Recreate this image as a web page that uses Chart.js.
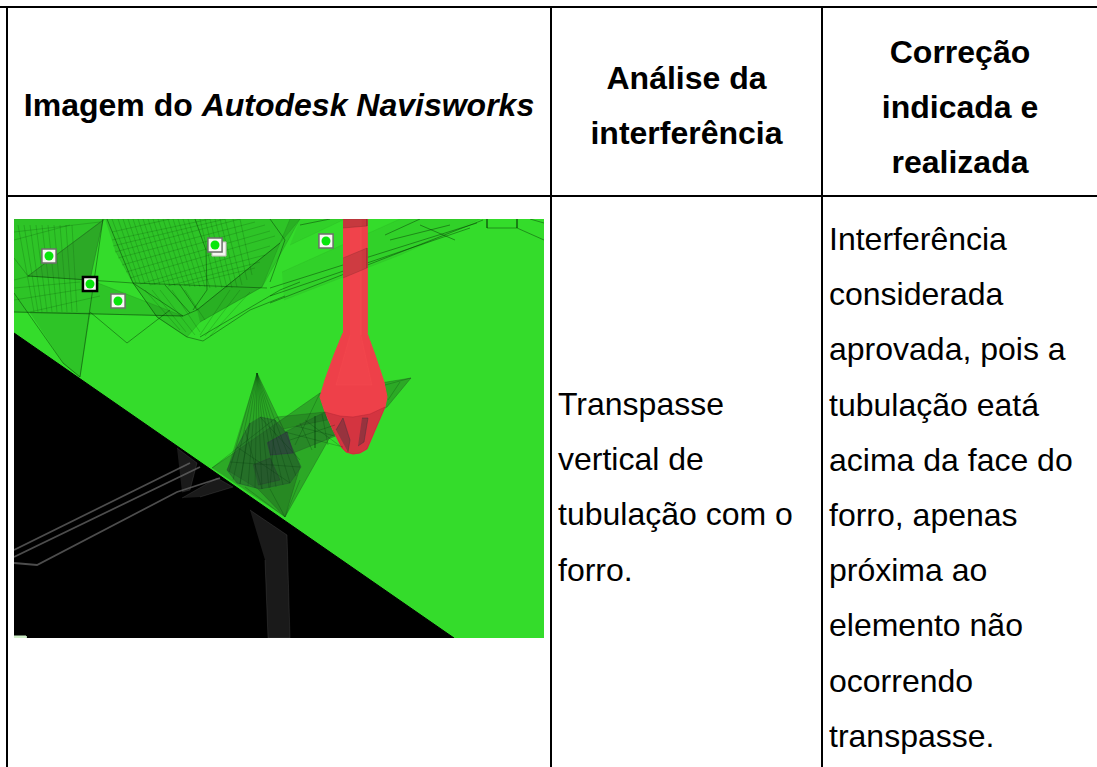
<!DOCTYPE html>
<html lang="pt">
<head>
<meta charset="utf-8">
<title>Interferência</title>
<script src="https://cdn.jsdelivr.net/npm/chart.js@4"></script>
<style>
  html, body { margin: 0; padding: 0; background: #fff; overflow: hidden; }
  body { width: 1097px; height: 767px; position: relative; font-family: "Liberation Sans", Arial, sans-serif; color: #000; }
  .rule { position: absolute; background: #000; }
  .cell { position: absolute; white-space: nowrap; }
  .head { font-weight: bold; font-size: 32px; line-height: 55px; text-align: center; }
  .body { font-size: 32px; line-height: 55.2px; }
  #scene { position: absolute; left: 14px; top: 219px; filter: blur(0.5px); }
</style>
</head>
<body>
<!-- table rules -->
<div class="rule" style="left:0;top:6px;width:1097px;height:2px"></div>
<div class="rule" style="left:6px;top:195px;width:1091px;height:2px"></div>
<div class="rule" style="left:6px;top:6px;width:2px;height:761px"></div>
<div class="rule" style="left:550px;top:6px;width:2px;height:761px"></div>
<div class="rule" style="left:821px;top:6px;width:2px;height:761px"></div>

<!-- header cells -->
<div class="cell head" style="left:8px;top:78px;width:542px">Imagem do <i>Autodesk Navisworks</i></div>
<div class="cell head" style="left:552px;top:51px;width:269px">Análise da<br>interferência</div>
<div class="cell head" style="left:823px;top:25px;width:274px">Correção<br>indicada e<br>realizada</div>

<!-- body cells, filled from the arrays below -->
<div class="cell body" id="analise" style="left:558px;top:377px"></div>
<div class="cell body" id="correcao" style="left:829px;top:212px"></div>

<canvas id="scene" width="530" height="419"></canvas>

<script>
const analysisLines = ['Transpasse', 'vertical de', 'tubulação com o', 'forro.'];
const correctionLines = ['Interferência', 'considerada', 'aprovada, pois a', 'tubulação eatá', 'acima da face do', 'forro, apenas', 'próxima ao', 'elemento não', 'ocorrendo', 'transpasse.'];

const ground = [[14,219],[544,219],[544,638],[14,638]];
const shadow = [[14,333],[454,638],[14,638]];
const cornerMark = [[14,636],[26,636],[26,638],[14,638]];

// wireframe faces over the green ground
const faintFaces = [
  [[14,219],[105,219],[28,276],[14,258]],
  [[14,258],[28,276],[90,280],[183,316],[14,312]],
  [[105,219],[300,219],[280,243],[262,287],[200,322],[187,337],[157,317],[133,283],[115,250]],
  [[197,310],[280,243],[290,219],[300,219],[262,287],[200,322]],
  [[30,313],[90,313],[80,377],[63,363]]
];
const bandFaces = [
  [[282,272],[400,219],[480,219],[400,255],[284,300]],
  [[300,219],[345,219],[290,245]]
];
const darkFaces = [
  [[28,276],[103,220],[90,280]],
  [[257,373],[285,432],[300,467],[285,517],[258,489],[227,470]],
  [[212,468],[320,393],[411,378],[387,407],[330,437],[285,517]]
];
const coneBlob = [[260,417],[275,420],[285,432],[301,467],[290,483],[260,489],[237,483],[227,470],[237,447],[250,423]];
const tube = [[285,432],[325,412],[338,435],[293,453]];
const tubeTop = [[277,417],[325,412],[327,420],[283,429]];
const coreDark = [[267,443],[287,432],[293,453],[270,455]];
const coreDark2 = [[253,465],[270,458],[280,480],[258,485]];

// red pipe
const pipeNeck = [[343,219],[367,219],[367,333],[375,355],[384,382],[387,397],[385,407],[376,428],[367,449],[360,453],[353,454],[346,452],[342,448],[333,430],[325,412],[320,397],[325,380],[334,355],[343,333]];
const pipeLower = [[325,412],[340,416],[353,417],[370,414],[385,407],[376,428],[367,449],[360,453],[353,454],[346,452],[342,448],[333,430]];
const pipeCrossA = [[343,219],[367,219],[367,226],[343,228]];
const pipeCrossB = [[343,258],[367,248],[367,268],[343,278]];
const pipeGlow = [[350,219],[361,219],[361,335],[372,385],[336,385],[350,335]];
const pipeBase = [[336,430],[343,418],[350,440],[348,452]];
const pipeBaseB = [[362,418],[368,418],[364,442],[358,446]];

// dark strokes of the mesh, null breaks a stroke
const meshStrokes = [
  [14,312],[183,316],[197,310],[280,243],null,
  [28,276],[133,283],[267,288],null,
  [14,293],[63,363],[80,377],[103,219],null,
  [107,219],[133,283],[157,317],[187,337],[203,341],null,
  [195,219],[206,250],[207,290],[193,310],null,
  [90,312],[127,343],[170,310],null,
  [203,341],[250,310],[285,296],null,
  [200,337],[280,290],[300,282],null,
  [270,303],[483,220],null,
  [270,296],[470,228],null,
  [270,288],[343,265],[477,223],null,
  [390,240],[450,225],null,
  [487,219],[487,228],[517,228],[544,240],null,
  [517,219],[517,228],null,
  [530,219],[544,223],null,
  [270,219],[285,240],[270,282],null,
  [300,225],[330,219],null,
  [385,235],[420,219],null,
  [420,225],[455,240],null,
  [133,283],[183,316],null,
  [180,285],[197,310],null,
  [165,285],[190,313],null
];
const gridStrokes = [
  [112,219],[136,283],null,[118,219],[140,283],null,[123,219],[145,284],null,[128,219],[150,285],null,
  [133,219],[155,285],null,[138,219],[160,285],null,[143,219],[165,285],null,[148,219],[170,286],null,
  [153,219],[175,286],null,[158,219],[180,286],null,[163,219],[185,286],null,[168,219],[190,287],null,
  [173,219],[195,287],null,[178,219],[200,287],null,[183,219],[205,287],null,[188,219],[210,288],null,
  [200,219],[216,288],null,[205,219],[222,288],null,[210,219],[227,288],null,[215,219],[232,288],null,
  [220,219],[237,287],null,[225,219],[242,285],null,[233,219],[247,280],null,[240,219],[252,275],null,
  [112,232],[170,219],null,[112,240],[210,219],null,[113,246],[225,219],null,[115,252],[240,219],null,
  [118,258],[255,222],null,[122,265],[265,225],null,[126,272],[270,231],null,[130,278],[275,236],null,
  [140,284],[270,246],null,[150,285],[265,255],null,[168,286],[260,262],null,[185,285],[255,268],null,
  [18,225],[34,312],null,[24,225],[38,312],null,[30,225],[42,312],null,[36,225],[47,312],null,
  [42,225],[52,312],null,[48,225],[57,312],null,[54,225],[62,312],null,[60,225],[67,312],null,
  [66,225],[72,312],null,[72,225],[77,312],null,[14,232],[100,222],null,[14,240],[70,225],null,
  [14,280],[30,276],null,[14,288],[80,282],null,[14,300],[90,288],null,[30,312],[100,296],null,
  [145,290],[180,330],null,[152,290],[186,332],null,[160,290],[195,335],null,[172,290],[200,332],null,
  [185,290],[205,320],null,[230,290],[200,335],null,[240,290],[205,336],null,[250,292],[210,336],null
];
const coneStrokes = [
  [257,373],[229,472],null,[257,373],[233,480],null,[257,373],[240,484],null,[257,373],[248,486],null,
  [257,373],[255,488],null,[257,373],[262,489],null,[257,373],[269,488],null,[257,373],[276,487],null,
  [257,373],[283,485],null,[257,373],[290,483],null,[257,373],[296,476],null,
  [237,447],[290,483],null,[230,462],[300,467],null,[245,430],[262,489],null,
  [260,417],[300,460],null,[250,423],[240,484],null,[275,420],[270,488],null,
  [212,468],[277,417],null,[285,517],[270,489],null,[285,517],[300,480],null,[285,517],[245,487],null,
  [285,432],[343,447],null,[296,426],[335,436],null,[305,420],[340,446],null,
  [315,416],[315,448],null,[290,440],[335,425],null,[300,423],[312,450],null,[322,414],[328,445],null,
  [320,393],[295,445],null,[411,378],[385,385],null,[400,382],[388,400],null
];

// gray edges inside the black area
const darkPatches = [
  [[177,448],[197,463],[190,490],[182,492]],
  [[182,498],[217,478],[233,487],[200,497]],
  [[250,510],[287,535],[290,638],[268,638],[265,560]]
];
const edgeStrokes = [
  [14,550],[190,463],null,
  [14,557],[200,467],null,
  [14,563],[37,565],[177,492],[220,478],null
];

// markers
const markerPlain = [[49,256],[118,301],[215,245],[326,241]];
const markerBack = [[219,249]];
const markerActive = [[90,284]];

function pts(list) {
  return list.map(p => (p ? { x: p[0], y: p[1] } : { x: null, y: null }));
}
function face(list, color) {
  return { data: pts(list), showLine: true, fill: 'shape', backgroundColor: color, borderColor: color, borderWidth: 1, pointRadius: 0 };
}
function strokes(list, color, width) {
  return { data: pts(list), showLine: true, fill: false, borderColor: color, borderWidth: width, pointRadius: 0, spanGaps: false };
}
function marker(list, fill, edge, radius, width) {
  return { data: pts(list), showLine: false, pointStyle: 'rect', pointRadius: radius, pointBackgroundColor: fill, pointBorderColor: edge, pointBorderWidth: width };
}
function dot(list) {
  return { data: pts(list), showLine: false, pointStyle: 'circle', pointRadius: 4.5, pointBackgroundColor: '#08e60c', pointBorderWidth: 0 };
}

const layers = [
  face(ground, '#34dc2b'),
  ...faintFaces.map(f => face(f, 'rgba(20,90,20,0.18)')),
  ...bandFaces.map(f => face(f, 'rgba(20,90,20,0.08)')),
  strokes(gridStrokes, 'rgba(0,60,0,0.24)', 0.8),
  ...darkFaces.map(f => face(f, 'rgba(30,80,30,0.36)')),
  strokes(meshStrokes, 'rgba(0,40,0,0.42)', 1),
  face(shadow, '#000000'),
  ...darkPatches.map(f => face(f, 'rgba(105,105,105,0.25)')),
  strokes(edgeStrokes, 'rgba(110,110,110,0.7)', 1.8),
  face(cornerMark, '#cfeec8'),
  face(coneBlob, 'rgba(35,85,45,0.5)'),
  face(tube, 'rgba(35,90,40,0.42)'),
  face(pipeNeck, '#ee4049'),
  face(pipeGlow, 'rgba(255,90,90,0.16)'),
  face(pipeLower, 'rgba(170,35,50,0.38)'),
  face(pipeCrossA, 'rgba(120,40,40,0.35)'),
  face(pipeCrossB, 'rgba(120,40,40,0.28)'),
  face(pipeBase, 'rgba(60,50,60,0.4)'),
  face(pipeBaseB, 'rgba(60,50,60,0.4)'),
  face(tubeTop, 'rgba(30,80,30,0.3)'),
  face(coreDark, 'rgba(50,50,70,0.55)'),
  face(coreDark2, 'rgba(40,60,50,0.4)'),
  strokes(coneStrokes, 'rgba(0,50,10,0.3)', 0.8),
  marker(markerBack, '#f4f6f0', '#b8b8b0', 10, 1),
  marker(markerPlain, '#f7f8f3', '#6a6f68', 10, 1.5),
  marker(markerActive, '#f7f8f3', '#000000', 10, 2.5),
  dot(markerPlain),
  dot(markerActive)
];
// later layers paint on top
layers.forEach((d, i) => { d.order = layers.length - i; });

new Chart(document.getElementById('scene').getContext('2d'), {
  type: 'scatter',
  data: { datasets: layers },
  options: {
    responsive: false,
    animation: false,
    events: [],
    layout: { padding: 0, autoPadding: false },
    plugins: { legend: { display: false }, tooltip: { enabled: false } },
    scales: {
      x: { type: 'linear', min: 14, max: 544, display: false },
      y: { type: 'linear', min: 219, max: 638, reverse: true, display: false }
    }
  }
});

document.getElementById('analise').innerHTML = analysisLines.join('<br>');
document.getElementById('correcao').innerHTML = correctionLines.join('<br>');
</script>
</body>
</html>
